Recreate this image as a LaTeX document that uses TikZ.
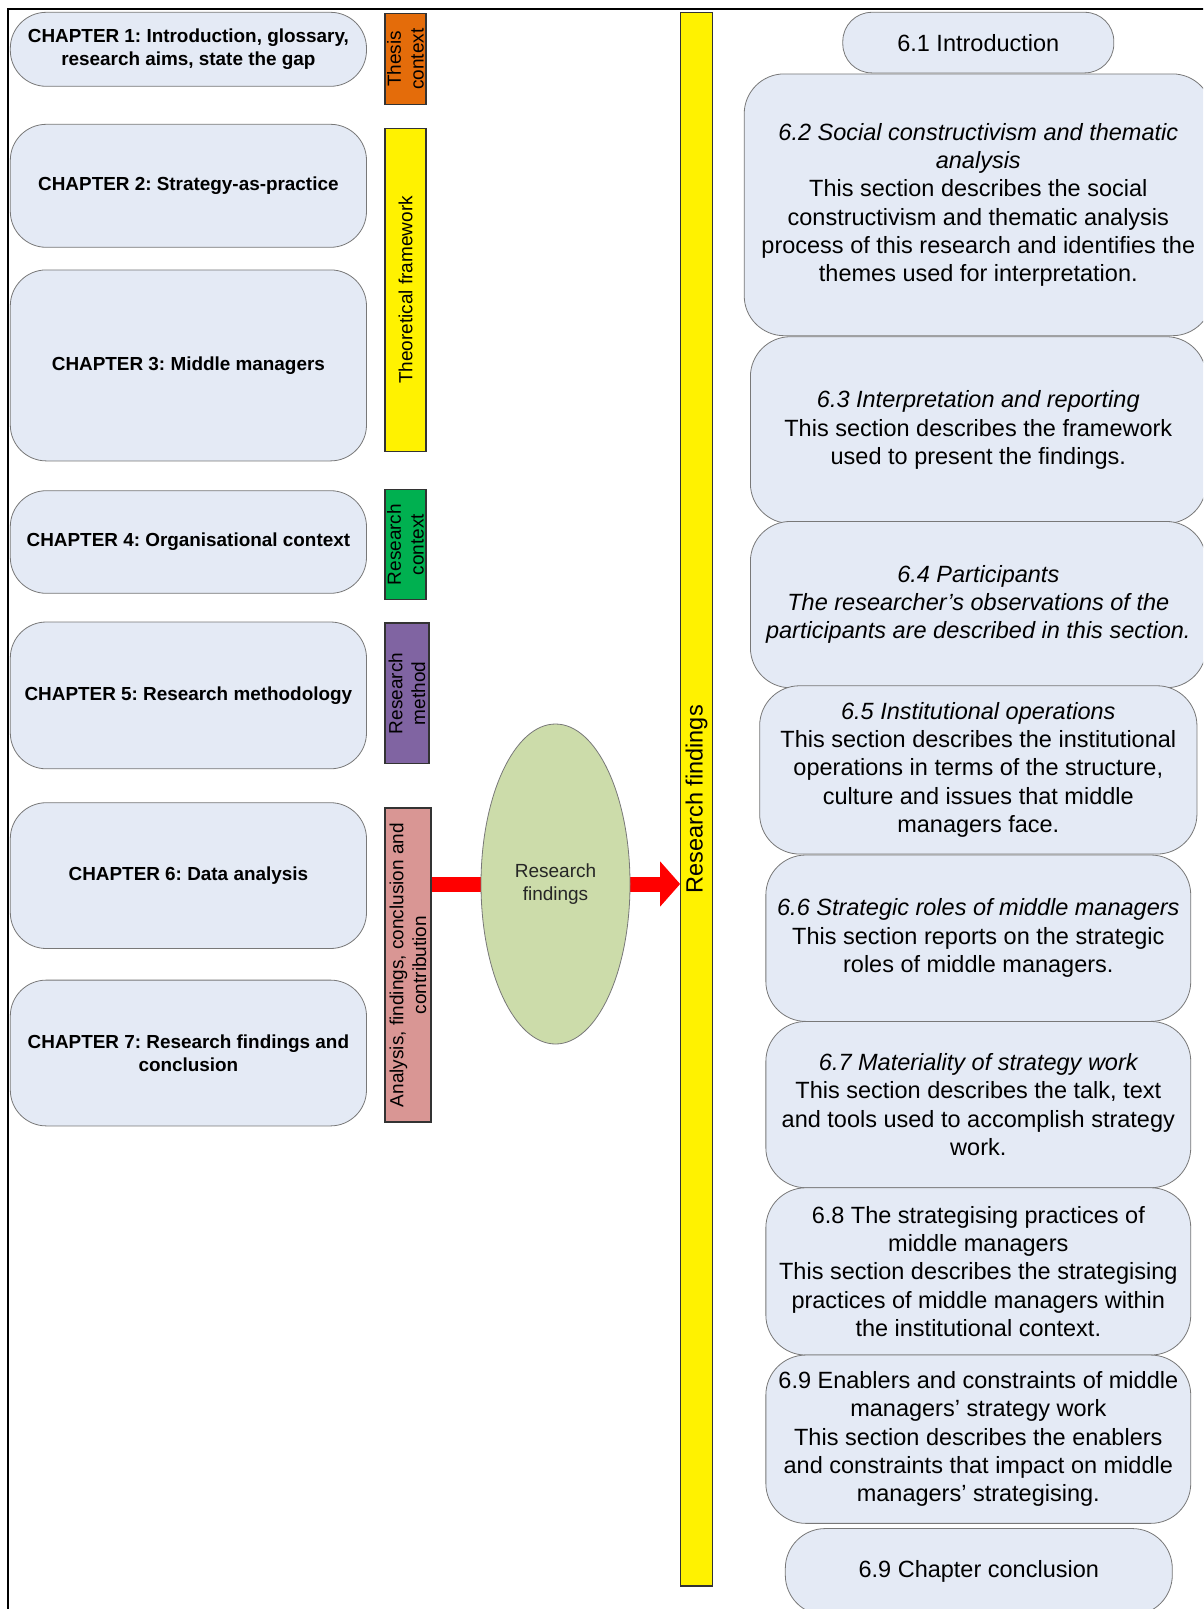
\documentclass[tikz,border=0pt]{standalone}
\usepackage{fontspec}
\setmainfont{Liberation Sans}
\usetikzlibrary{shapes.geometric,arrows.meta}
\definecolor{boxfill}{RGB}{228,234,245}
\definecolor{boxline}{RGB}{120,120,120}
\definecolor{orangebar}{RGB}{228,108,10}
\definecolor{greenbar}{RGB}{0,176,80}
\definecolor{purplebar}{RGB}{128,100,162}
\definecolor{pinkbar}{RGB}{217,150,148}
\definecolor{ellfill}{RGB}{204,220,170}
\frenchspacing
\begin{document}
\begin{tikzpicture}[x=1pt,y=-1pt,
  chap/.style={draw=boxline, line width=0.8pt, fill=boxfill, rounded corners=36pt,
    minimum width=356.2pt, inner sep=0pt, align=center,
    font=\bfseries\fontsize{18.9}{22.6}\selectfont},
  sec/.style={draw=boxline, line width=0.8pt, fill=boxfill, rounded corners=40pt,
    inner sep=0pt, align=center, font=\fontsize{23.5}{28.3}\selectfont},
  sidebar/.style={draw=black!80, line width=1.2pt, rotate=90, inner sep=0pt,
    align=center, font=\fontsize{19}{22.6}\selectfont},
  redarrow/.style={draw=red, line width=15pt, -{Triangle[length=20pt,width=44pt,fill=red]}}
]
\useasboundingbox (0,0) rectangle (1203,1609);
\clip (0,0) rectangle (1203,1609);
\fill[white] (0,0) rectangle (1203,1609);

% frame
\draw[line width=1.8pt] (8,1620) -- (8,9) -- (1215,9);

% chapter boxes
\node[chap, minimum height=74pt] (c1) at (188.4,49.3) {CHAPTER 1: Introduction, glossary,\\research aims, state the gap};
\node[chap, minimum height=123pt] (c2) at (188.4,185.8) {CHAPTER 2: Strategy-as-practice};
\node[chap, minimum height=191pt] (c3) at (188.4,365.4) {CHAPTER 3: Middle managers};
\node[chap, minimum height=102.6pt] (c4) at (188.4,542) {CHAPTER 4: Organisational context};
\node[chap, minimum height=146.8pt] (c5) at (188.4,695.4) {CHAPTER 5: Research methodology};
\node[chap, minimum height=145.8pt] (c6) at (188.4,875.6) {CHAPTER 6: Data analysis};
\node[chap, minimum height=145.8pt] (c7) at (188.4,1053) {CHAPTER 7: Research findings and\\conclusion};

% side bars
\node[sidebar, fill=orangebar, minimum width=91.4pt, minimum height=41pt] (tc) at (405.5,59) {Thesis\\context};
\node[sidebar, fill=yellow, minimum width=323.4pt, minimum height=41pt] (tf) at (405.5,290) {Theoretical framework};
\node[sidebar, fill=greenbar, minimum width=109.8pt, minimum height=41pt] (rc) at (405.5,544.6) {Research\\context};
\node[sidebar, fill=purplebar, minimum width=140.7pt, minimum height=44pt] (rm) at (407,693.4) {Research\\method};
\node[sidebar, fill=pinkbar, minimum width=314.1pt, minimum height=46pt] (ana) at (408,965) {Analysis, findings, conclusion and\\contribution};

% big yellow bar
\node[sidebar, fill=yellow, minimum width=1573.7pt, minimum height=31.5pt,
  font=\fontsize{23.5}{28.3}\selectfont] (bigbar) at (696.5,799.2) {Research findings};

% ellipse
\coordinate (ellc) at (555.5,884);
\draw[redarrow] (ana.south |- ellc) -- (bigbar.north |- ellc);
\node[ellipse, draw=boxline, line width=0.8pt, fill=ellfill, minimum width=149pt,
  minimum height=320pt, inner sep=0pt, align=center, text=black!85,
  font=\fontsize{19}{22.6}\selectfont] (ell) at (ellc) {Research\\findings};

% right section boxes
\node[sec, rounded corners=29pt, minimum width=271pt, minimum height=60.6pt] (s1) at (978.3,42.6) {6.1 Introduction};
\node[sec, minimum width=468.2pt, minimum height=261.8pt] (s2) at (978.3,204.8)
  {\itshape 6.2 Social constructivism and thematic\\\itshape analysis\\This section describes the social\\constructivism and thematic analysis\\process of this research and identifies the\\themes used for interpretation.};
\node[sec, minimum width=455.8pt, minimum height=186.8pt] (s3) at (978.3,430.1)
  {\itshape 6.3 Interpretation and reporting\\This section describes the framework\\used to present the findings.};
\node[sec, minimum width=455.8pt, minimum height=166.3pt] (s4) at (978.3,604.6)
  {\itshape 6.4 Participants\\\itshape The researcher’s observations of the\\\itshape participants are described in this section.};
\node[sec, minimum width=437.3pt, minimum height=168.3pt] (s5) at (978.3,769.9)
  {\itshape 6.5 Institutional operations\\This section describes the institutional\\operations in terms of the structure,\\culture and issues that middle\\managers face.};
\node[sec, minimum width=424.9pt, minimum height=166.4pt] (s6) at (978.3,938.2)
  {\itshape 6.6 Strategic roles of middle managers\\This section reports on the strategic\\roles of middle managers.};
\node[sec, minimum width=424.9pt, minimum height=166.3pt] (s7) at (978.3,1104.6)
  {\itshape 6.7 Materiality of strategy work\\This section describes the talk, text\\and tools used to accomplish strategy\\work.};
\node[sec, minimum width=424.9pt, minimum height=167.3pt] (s8) at (978.3,1271.4)
  {6.8 The strategising practices of\\middle managers\\This section describes the strategising\\practices of middle managers within\\the institutional context.};
\node[sec, minimum width=424.9pt, minimum height=168.3pt] (s9) at (978.3,1439.2)
  {6.9 Enablers and constraints of middle\\managers’ strategy work\\This section describes the enablers\\and constraints that impact on middle\\managers’ strategising.};
\node[sec, minimum width=387pt, minimum height=86.5pt] (s10) at (978.8,1571.8) {6.9 Chapter conclusion};
\end{tikzpicture}
\end{document}
